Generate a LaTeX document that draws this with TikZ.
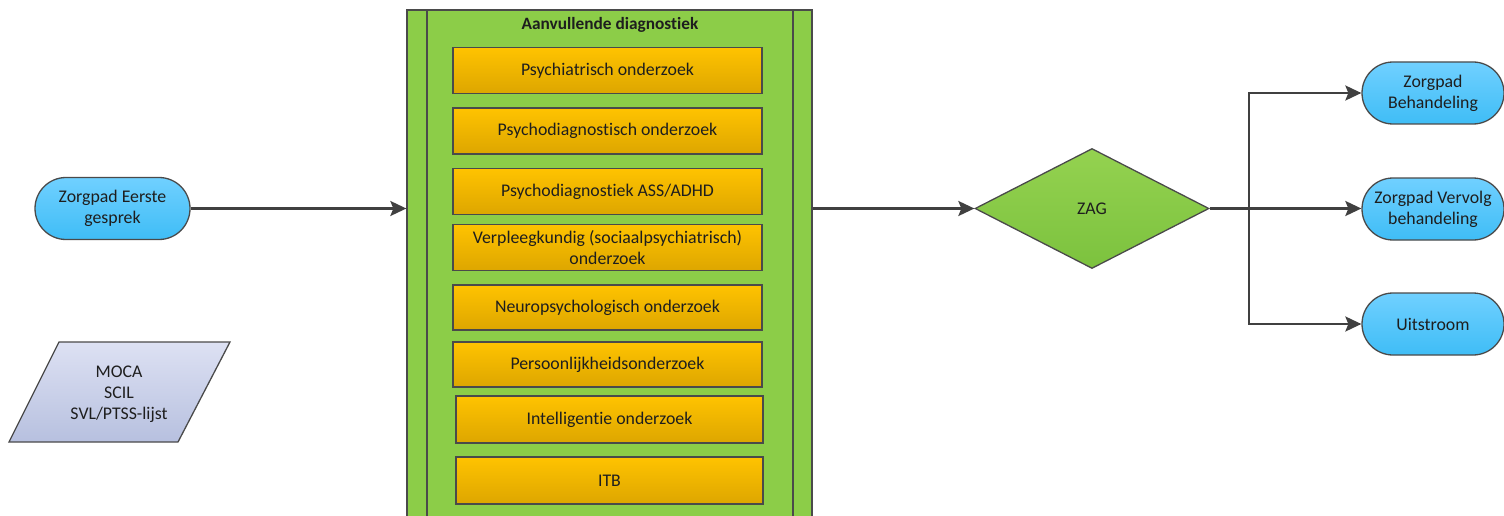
\documentclass[tikz,border=0pt]{standalone}
\usepackage{fontspec}
\setmainfont{Carlito}[Ligatures=NoCommon]
\usetikzlibrary{arrows.meta,shapes.geometric}

\definecolor{edge}{HTML}{4A4A4A}
\definecolor{wire}{HTML}{404040}
\definecolor{ink}{HTML}{1E1E1E}
\definecolor{laneGreen}{HTML}{8CCD48}
\definecolor{orangeTop}{HTML}{FFC300}
\definecolor{orangeBot}{HTML}{DDA600}
\definecolor{blueTop}{HTML}{70D0FF}
\definecolor{blueBot}{HTML}{3FBDF6}
\definecolor{greenTop}{HTML}{94D250}
\definecolor{greenBot}{HTML}{7CC23E}
\definecolor{paraTop}{HTML}{DDE1F3}
\definecolor{paraBot}{HTML}{B7C0DF}

\tikzset{
  txt/.style={font=\fontsize{17.8}{21}\selectfont, text=ink, align=center},
  lane/.style={draw=edge, line width=1.3pt, fill=laneGreen},
  task/.style={txt, draw=edge, line width=1.3pt, top color=orangeTop, bottom color=orangeBot,
    minimum height=46pt, inner sep=0pt},
  term/.style={txt, draw=edge, line width=1.3pt, top color=blueTop, bottom color=blueBot,
    rounded corners=31pt, minimum height=62pt, inner sep=0pt},
  choice/.style={txt, diamond, draw=edge, line width=1.3pt, top color=greenTop, bottom color=greenBot,
    minimum width=234pt, minimum height=120pt, inner sep=0pt},
  datashape/.style={draw=edge, line width=1.3pt, top color=paraTop, bottom color=paraBot},
  flow/.style={draw=wire, line width=2.2pt, -{Stealth[length=16pt,width=15pt,inset=3pt]}},
}

\begin{document}
\begin{tikzpicture}[x=1pt,y=-1pt]
\useasboundingbox (0,0) rectangle (1504,516);

% swimlane for the additional diagnostics
\node[lane, minimum width=405pt, minimum height=512pt, inner sep=0pt] (lane) at (609.5,266) {};
\draw[draw=edge, line width=1.3pt] (427,10) -- (427,522) (793,10) -- (793,522);
\node[txt, font=\fontsize{17.3}{21}\selectfont\bfseries] (lanetitle) at (610,25) {Aanvullende diagnostiek};

% diagnostic steps
\node[task, minimum width=309pt] (t1) at (607.5,70.5) {Psychiatrisch onderzoek};
\node[task, minimum width=309pt] (t2) at (607.5,131) {Psychodiagnostisch onderzoek};
\node[task, minimum width=309pt] (t3) at (607.5,191.5) {Psychodiagnostiek ASS/ADHD};
\node[task, minimum width=309pt] (t4) at (607.5,247.5) {Verpleegkundig (sociaalpsychiatrisch)\\onderzoek};
\node[task, minimum width=309pt, minimum height=45pt] (t5) at (607.5,307.5) {Neuropsychologisch onderzoek};
\node[task, minimum width=309pt, minimum height=45pt] (t6) at (607.5,364.5) {Persoonlijkheidsonderzoek};
\node[task, minimum width=307pt, minimum height=47pt] (t7) at (609.5,419.5) {Intelligentie onderzoek};
\node[task, minimum width=307pt, minimum height=47pt] (t8) at (609.5,480.5) {ITB};

% start of the pathway
\node[term, minimum width=155pt] (start) at (112.5,208.5) {Zorgpad Eerste\\gesprek};

% questionnaires
\draw[datashape] (9,442) -- (178,442) -- (230,342) -- (59,342) -- cycle;
\node[txt] (lists) at (119,394) {MOCA\\SCIL\\SVL/PTSS-lijst};

% decision and outcomes
\node[choice] (zag) at (1092,208.5) {ZAG};
\node[term, minimum width=142pt] (beh) at (1433,93) {Zorgpad\\Behandeling};
\node[term, minimum width=142pt] (verv) at (1433,209) {Zorgpad Vervolg\\behandeling};
\node[term, minimum width=142pt] (uit) at (1433,324) {Uitstroom};

\coordinate (split) at (1249,208.5);

% connectors
\draw[flow] (start.east) -- (start.east -| lane.west);
\draw[flow] (zag.west -| lane.east) -- (zag.west);
\draw[flow] (zag.east) -- (verv.west |- zag.east);
\draw[flow] (split) |- (beh.west);
\draw[flow] (split) |- (uit.west);
\end{tikzpicture}
\end{document}
